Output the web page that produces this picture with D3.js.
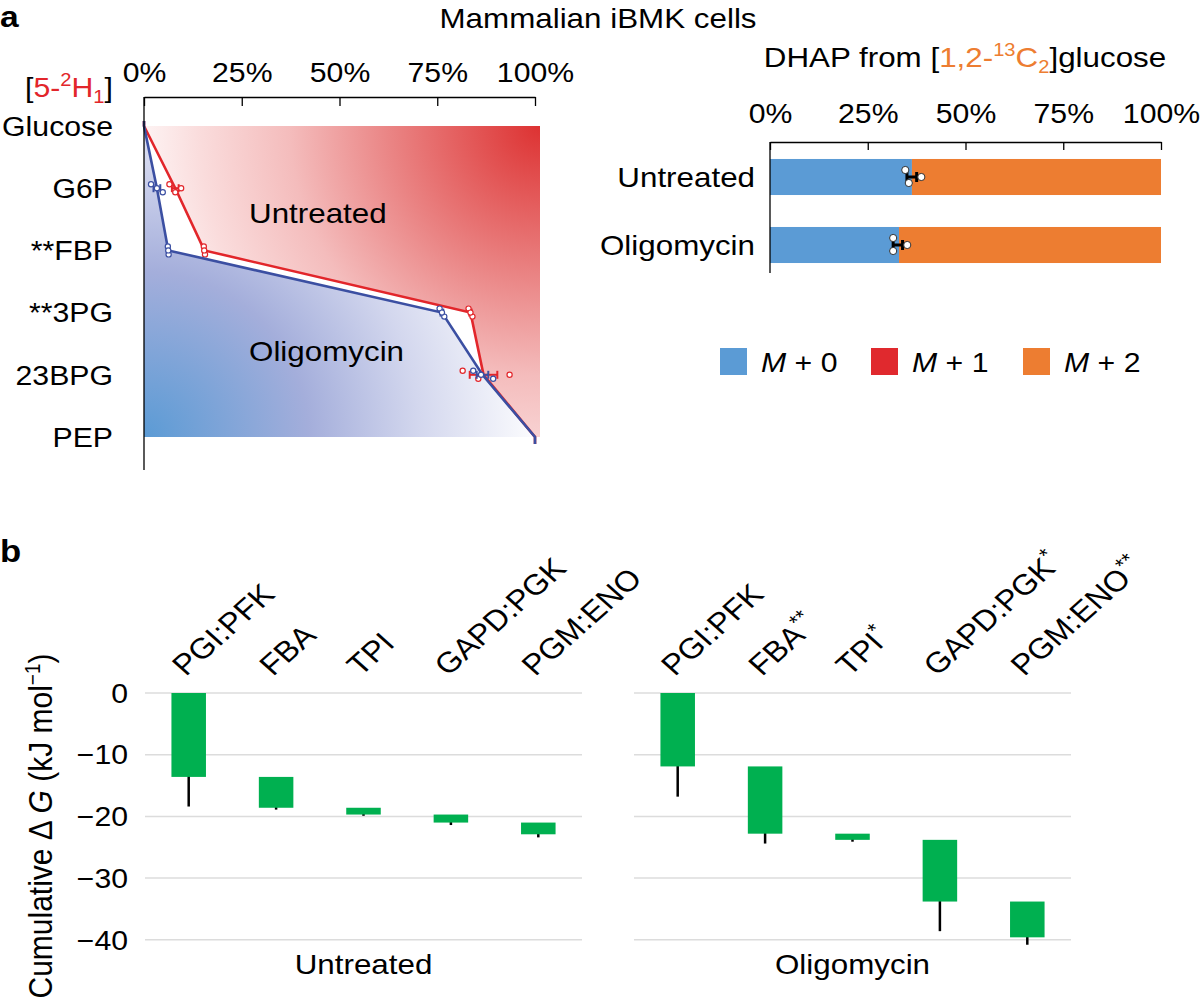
<!DOCTYPE html>
<html><head><meta charset="utf-8">
<script src="https://cdn.jsdelivr.net/npm/d3@7"></script>
<style>
body{margin:0;background:#fff}
svg{display:block}
text{font-family:"Liberation Sans",Arial,Helvetica,sans-serif;fill:#000}
</style>
</head><body>
<svg id="c" width="1200" height="1006"></svg>
<script>
// ---------------- DATA ----------------
// Panel a (left): fraction of [5-2H1] label, per metabolite (replicates)
const metabolites = ["Glucose", "G6P", "**FBP", "**3PG", "23BPG", "PEP"];
const pctTicks = [0, 25, 50, 75, 100];
const untreatedReps = [[0], [6.5, 8.0, 9.5], [15.3, 15.6, 15.4], [83.0, 84.0, 83.5], [81.5, 85.5, 93.5], [100]];
const oligoReps     = [[0], [1.8, 4.8, 3.3], [6.1, 6.3, 6.2], [75.6, 76.8, 76.2], [84.2, 89.3, 86.2], [100]];

// Panel a (right): DHAP isotopologues
const dhapGroups = ["Untreated", "Oligomycin"];
const dhapM0 = [36.3, 33.0];
const dhapM1 = [0, 0];
const dhapM2 = [63.7, 67.0];
const dhapM0Reps = [[34.6, 35.5, 38.7], [31.5, 31.5, 35.1]];
const legendLabels = ["0", "1", "2"];

// Panel b: cumulative ΔG waterfall
const steps = ["PGI:PFK", "FBA", "TPI", "GAPD:PGK", "PGM:ENO"];
const conditions = ["Untreated", "Oligomycin"];
const stars = [["", "", "", "", ""], ["", "**", "*", "*", "**"]];
const dGUntreated = [-13.6, -5.0, -1.1, -1.3, -1.9];
const errUntreated = [4.8, 0.3, 0.2, 0.4, 0.5];
const dGOligo = [-11.9, -10.9, -1.0, -10.0, -5.8];
const errOligo = [4.9, 1.6, 0.3, 4.8, 1.2];
const dGTicks = [0, -10, -20, -30, -40];

// ---------------- STYLE ----------------
const RED = "#e2262b", BLUE = "#3b4fa2", ORANGE = "#ed7d31", LBLUE = "#5b9bd5", MRED = "#e0292e", GREEN = "#00b050";
const FS = 27, FL = 28, S = 1.12;   // font sizes, horizontal text stretch
const svg = d3.select("#c");
const defs = svg.append("defs");

// text helper: positioned with a transform that widens glyphs slightly
function txt(x, y, size, opts = {}) {
  const rot = opts.rotate ? ` rotate(${opts.rotate})` : "";
  const t = svg.append("text").attr("transform", `translate(${x},${y}) scale(${S},1)${rot}`).attr("font-size", size);
  if (opts.anchor) t.attr("text-anchor", opts.anchor);
  if (opts.dy) t.attr("dy", opts.dy);
  if (opts.weight) t.attr("font-weight", opts.weight);
  if (opts.text !== undefined) t.text(opts.text);
  return t;
}

// panel letters and title
txt(0, 27, 30, {weight: "bold", text: "a"});
txt(0, 562, 31, {weight: "bold", text: "b"});
txt(598, 28, FL, {anchor: "middle", text: "Mammalian iBMK cells"});

// ================= Panel a left =================
const xA = d3.scaleLinear().domain([0, 100]).range([144, 535]);
const yA = d3.scalePoint().domain(metabolites).range([126, 437]);
const aTop = 126, aBot = 437, aRight = 540, aLeft = 144;

const gR = defs.append("radialGradient").attr("id", "gRed").attr("gradientUnits", "userSpaceOnUse")
  .attr("cx", aRight).attr("cy", aTop).attr("r", 500);
[[0, "#dd3232"], [0.3, "#ea8484"], [0.5, "#f4bcbc"], [0.68, "#fadcdc"], [0.85, "#ffffff"]]
  .forEach(s => gR.append("stop").attr("offset", s[0]).attr("stop-color", s[1]));
const gB = defs.append("radialGradient").attr("id", "gBlue").attr("gradientUnits", "userSpaceOnUse")
  .attr("cx", aLeft).attr("cy", aBot).attr("r", 500);
[[0, "#5b9bd5"], [0.33, "#a4aedb"], [0.55, "#d3d7ee"], [0.8, "#ffffff"]]
  .forEach(s => gB.append("stop").attr("offset", s[0]).attr("stop-color", s[1]));

const meanU = untreatedReps.map(a => d3.mean(a));
const meanO = oligoReps.map(a => d3.mean(a));
const ptsU = meanU.map((m, i) => [xA(m), yA(metabolites[i])]);
const ptsO = meanO.map((m, i) => [xA(m), yA(metabolites[i])]);
const line = d3.line();

svg.append("path").attr("d", line([...ptsU, [aRight, aBot], [aRight, aTop]]) + "Z").attr("fill", "url(#gRed)");
svg.append("path").attr("d", line([...ptsO, [aLeft, aBot]]) + "Z").attr("fill", "url(#gBlue)");

function drawSeries(pts, reps, means, color) {
  const ext = [[pts[0][0], pts[0][1] - 5], ...pts, [pts[pts.length - 1][0], pts[pts.length - 1][1] + 7]];
  svg.append("path").attr("d", line(ext)).attr("fill", "none").attr("stroke", color).attr("stroke-width", 2.6);
  const off = [-4, 4, 0];
  reps.forEach((r, i) => {
    if (r.length < 2) return;
    const y = yA(metabolites[i]);
    const se = d3.deviation(r) / Math.sqrt(r.length);
    const x0 = xA(means[i] - se), x1 = xA(means[i] + se);
    const g = svg.append("g").attr("stroke", color).attr("stroke-width", 2).attr("fill", "none");
    g.append("line").attr("x1", x0).attr("x2", x1).attr("y1", y).attr("y2", y);
    g.append("line").attr("x1", x0).attr("x2", x0).attr("y1", y - 4).attr("y2", y + 4);
    g.append("line").attr("x1", x1).attr("x2", x1).attr("y1", y - 4).attr("y2", y + 4);
    r.forEach((v, j) => {
      svg.append("circle").attr("cx", xA(v)).attr("cy", y + off[j]).attr("r", 2.6)
        .attr("fill", "#fff").attr("stroke", color).attr("stroke-width", 1.2);
    });
  });
}
drawSeries(ptsU, untreatedReps, meanU, RED);
drawSeries(ptsO, oligoReps, meanO, BLUE);

function styleAxis(ax) {
  ax.select(".domain").attr("stroke", "#000").attr("stroke-width", 1.3);
  ax.selectAll(".tick line").attr("stroke", "#000").attr("stroke-width", 1.3);
  ax.selectAll(".tick text").attr("font-size", FS).attr("font-family", null)
    .attr("transform", function () { return `translate(0,${d3.select(this).attr("y")}) scale(${S},1)`; })
    .attr("y", 0);
}
const axA = svg.append("g").attr("transform", "translate(0,97)")
  .call(d3.axisTop(xA).tickValues(pctTicks).tickFormat(d => d + "%").tickSizeInner(-9).tickSizeOuter(0).tickPadding(15));
styleAxis(axA);
svg.append("line").attr("x1", aLeft).attr("x2", aLeft).attr("y1", 97).attr("y2", 470).attr("stroke", "#000").attr("stroke-width", 1.3);

metabolites.forEach(m => txt(113, yA(m), FS, {anchor: "end", dy: "0.36em", text: m}));

// [5-2H1] label
{
  const t = txt(113, 97, FS, {anchor: "end"});
  t.append("tspan").text("[");
  t.append("tspan").style("fill", RED).text("5-");
  t.append("tspan").style("fill", RED).attr("font-size", 18).attr("dy", -11).text("2");
  t.append("tspan").style("fill", RED).attr("dy", 11).text("H");
  t.append("tspan").style("fill", RED).attr("font-size", 18).attr("dy", 6).text("1");
  t.append("tspan").attr("dy", -6).text("]");
}
txt(249, 223, FL, {text: "Untreated"});
txt(249, 361, FL, {text: "Oligomycin"});

// ================= Panel a right =================
const xD = d3.scaleLinear().domain([0, 100]).range([770, 1161]);
const yD = d3.scaleBand().domain(dhapGroups).range([143, 279]).paddingInner(0.47).paddingOuter(0.235);
{
  const t = txt(965, 67, FL, {anchor: "middle"});
  t.append("tspan").text("DHAP from [");
  t.append("tspan").style("fill", ORANGE).text("1,2-");
  t.append("tspan").style("fill", ORANGE).attr("font-size", 18).attr("dy", -11).text("13");
  t.append("tspan").style("fill", ORANGE).attr("dy", 11).text("C");
  t.append("tspan").style("fill", ORANGE).attr("font-size", 18).attr("dy", 6).text("2");
  t.append("tspan").attr("dy", -6).text("]glucose");
}
const stackKeys = [dhapM0, dhapM1, dhapM2];
const stackColors = [LBLUE, MRED, ORANGE];
dhapGroups.forEach((gname, gi) => {
  let acc = 0;
  stackKeys.forEach((arr, k) => {
    const v = arr[gi];
    if (v > 0) {
      svg.append("rect").attr("x", xD(acc)).attr("width", xD(acc + v) - xD(acc))
        .attr("y", yD(gname)).attr("height", yD.bandwidth()).attr("fill", stackColors[k]);
    }
    acc += v;
  });
  const reps = dhapM0Reps[gi];
  const m = d3.mean(reps), se = d3.deviation(reps) / Math.sqrt(reps.length);
  const cy = yD(gname) + yD.bandwidth() / 2;
  const g = svg.append("g").attr("stroke", "#000").attr("stroke-width", 3);
  g.append("line").attr("x1", xD(m - se)).attr("x2", xD(m + se)).attr("y1", cy).attr("y2", cy);
  g.append("line").attr("x1", xD(m - se)).attr("x2", xD(m - se)).attr("y1", cy - 5).attr("y2", cy + 5);
  g.append("line").attr("x1", xD(m + se)).attr("x2", xD(m + se)).attr("y1", cy - 5).attr("y2", cy + 5);
  const off = [-7, 6, 0];
  reps.forEach((v, j) => svg.append("circle").attr("cx", xD(v)).attr("cy", cy + off[j]).attr("r", 3.6)
    .attr("fill", "#fff").attr("stroke", "#333").attr("stroke-width", 1));
});
const axD = svg.append("g").attr("transform", "translate(0,142)")
  .call(d3.axisTop(xD).tickValues(pctTicks).tickFormat(d => d + "%").tickSizeInner(-8).tickSizeOuter(0).tickPadding(19));
styleAxis(axD);
svg.append("line").attr("x1", 770).attr("x2", 770).attr("y1", 142).attr("y2", 273).attr("stroke", "#000").attr("stroke-width", 1.3);
dhapGroups.forEach(d => txt(755, yD(d) + yD.bandwidth() / 2, FL, {anchor: "end", dy: "0.36em", text: d}));

// legend
const legX = [720, 871, 1023];
legendLabels.forEach((lab, i) => {
  svg.append("rect").attr("x", legX[i]).attr("y", 348).attr("width", 27).attr("height", 27).attr("fill", stackColors[i]);
  const t = txt(legX[i] + 41, 372, FS);
  t.append("tspan").attr("font-style", "italic").text("M");
  t.append("tspan").text(" + " + lab);
});

// ================= Panel b =================
const yB = d3.scaleLinear().domain([0, -40]).range([693, 939.8]);
const groupRanges = [[145, 582], [634, 1071]];
const allDG = [dGUntreated, dGOligo], allErr = [errUntreated, errOligo];

conditions.forEach((cond, ci) => {
  const [r0, r1] = groupRanges[ci];
  const xB = d3.scaleBand().domain(steps).range([r0, r1]).paddingInner(0.605).paddingOuter(0.3025);
  dGTicks.forEach(t => svg.append("line").attr("x1", r0).attr("x2", r1).attr("y1", yB(t)).attr("y2", yB(t))
    .attr("stroke", "#dcdcdc").attr("stroke-width", 1.5));
  let cum = 0;
  steps.forEach((s, i) => {
    const start = cum, end = cum + allDG[ci][i];
    cum = end;
    const cx = xB(s) + xB.bandwidth() / 2;
    const e = allErr[ci][i];
    svg.append("line").attr("x1", cx).attr("x2", cx).attr("y1", yB(end - e)).attr("y2", yB(end + e))
      .attr("stroke", "#000").attr("stroke-width", 2.5);
    svg.append("rect").attr("x", xB(s)).attr("width", xB.bandwidth())
      .attr("y", yB(start)).attr("height", yB(end) - yB(start)).attr("fill", GREEN);
    const t = txt(cx - 3, 677, 29, {rotate: -45});
    t.append("tspan").text(s);
    if (stars[ci][i]) t.append("tspan").attr("font-size", 20).attr("dy", -11).text(stars[ci][i]);
  });
  txt((r0 + r1) / 2, 974, FL, {anchor: "middle", text: cond});
});
dGTicks.forEach(d => txt(128, yB(d), FS, {anchor: "end", dy: "0.36em", text: d === 0 ? "0" : "\u2212" + Math.abs(d)}));
{
  const t = txt(52, 826, 30, {anchor: "middle", rotate: -90});
  t.append("tspan").text("Cumulative \u0394 ");
  t.append("tspan").attr("font-style", "italic").text("G");
  t.append("tspan").text(" (kJ mol");
  t.append("tspan").attr("font-size", 19).attr("dy", -11).text("\u22121");
  t.append("tspan").attr("dy", 11).text(")");
}
</script>
</body></html>
